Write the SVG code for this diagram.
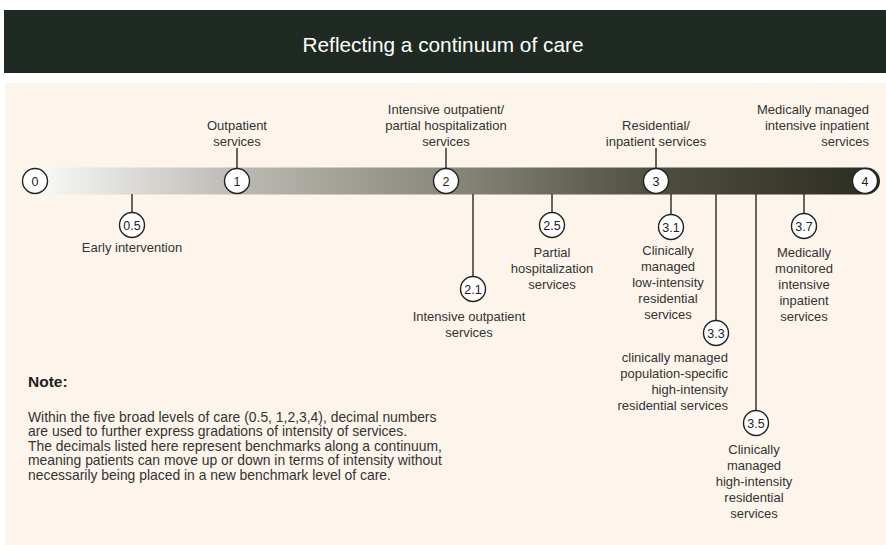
<svg xmlns="http://www.w3.org/2000/svg" width="886" height="545" viewBox="0 0 886 545">
  <style>
    .lbl { font-family: "Liberation Sans", Arial, sans-serif; font-size: 13px; fill: #333333; }
    .mid { text-anchor: middle; }
    .end { text-anchor: end; }
    .num { font-family: "Liberation Sans", Arial, sans-serif; font-size: 12.5px; fill: #222222; text-anchor: middle; }
    .dot { fill: #ffffff; stroke: #222222; stroke-width: 1.4; }
    .tick { stroke: #333333; stroke-width: 1.5; fill: none; }
    .note { font-family: "Liberation Sans", Arial, sans-serif; font-size: 13.9px; fill: #333333; }
  </style>
  <defs>
    <linearGradient id="barGrad" gradientUnits="userSpaceOnUse" x1="47" y1="0" x2="880" y2="0">
      <stop offset="0" stop-color="#f6f6f4"/>
      <stop offset="0.23" stop-color="#bbb9b2"/>
      <stop offset="0.48" stop-color="#8b897c"/>
      <stop offset="0.66" stop-color="#5f5e4f"/>
      <stop offset="0.73" stop-color="#4f4f40"/>
      <stop offset="0.88" stop-color="#3b3c2e"/>
      <stop offset="1" stop-color="#2b2c20"/>
    </linearGradient>
  </defs>

  <!-- header band and panel -->
  <rect x="4" y="10" width="882" height="63" fill="#1f2b22"/>
  <text x="443" y="52" font-family="'Liberation Sans', Arial, sans-serif" font-size="20.8" fill="#ffffff" text-anchor="middle">Reflecting a continuum of care</text>
  <rect x="5" y="83" width="881" height="462" fill="#fdf5eb"/>

  <!-- continuum bar -->
  <path d="M35,167.5 H866.5 A13.5,13.5 0 0 1 866.5,194.5 H35 Z" fill="url(#barGrad)"/>

  <!-- connectors -->
  <g id="connectors">
    <line class="tick" x1="237" y1="148" x2="237" y2="168"/>
    <line class="tick" x1="446" y1="148" x2="446" y2="168"/>
    <line class="tick" x1="656" y1="148" x2="656" y2="168"/>
    <line class="tick" x1="132" y1="194" x2="132" y2="213"/>
    <line class="tick" x1="473" y1="194" x2="473" y2="277"/>
    <line class="tick" x1="552" y1="194" x2="552" y2="213"/>
    <line class="tick" x1="671" y1="194" x2="671" y2="215"/>
    <line class="tick" x1="716" y1="194" x2="716" y2="321"/>
    <line class="tick" x1="756" y1="194" x2="756" y2="411"/>
    <line class="tick" x1="804" y1="194" x2="804" y2="214"/>
  </g>

  <!-- main levels -->
  <g id="level-0">
    <circle class="dot" cx="35" cy="181" r="12.5"/>
    <text class="num" x="35" y="185.5">0</text>
  </g>
  <g id="level-1">
    <circle class="dot" cx="237" cy="181" r="12.5"/>
    <text class="num" x="237" y="185.5">1</text>
    <text class="lbl mid" x="237" y="130">Outpatient</text>
    <text class="lbl mid" x="237" y="146">services</text>
  </g>
  <g id="level-2">
    <circle class="dot" cx="446" cy="181" r="12.5"/>
    <text class="num" x="446" y="185.5">2</text>
    <text class="lbl mid" x="446" y="114">Intensive outpatient/</text>
    <text class="lbl mid" x="446" y="130">partial hospitalization</text>
    <text class="lbl mid" x="446" y="146">services</text>
  </g>
  <g id="level-3">
    <circle class="dot" cx="656" cy="181" r="12.5"/>
    <text class="num" x="656" y="185.5">3</text>
    <text class="lbl mid" x="656" y="130">Residential/</text>
    <text class="lbl mid" x="656" y="146">inpatient services</text>
  </g>
  <g id="level-4">
    <circle class="dot" cx="865" cy="181" r="12.5"/>
    <text class="num" x="865" y="185.5">4</text>
    <text class="lbl end" x="869" y="114">Medically managed</text>
    <text class="lbl end" x="869" y="130">intensive inpatient</text>
    <text class="lbl end" x="869" y="146">services</text>
  </g>

  <!-- sub-levels -->
  <g id="level-0-5">
    <circle class="dot" cx="132" cy="225" r="12.5"/>
    <text class="num" x="132" y="229.5">0.5</text>
    <text class="lbl mid" x="132" y="251.5">Early intervention</text>
  </g>
  <g id="level-2-1">
    <circle class="dot" cx="473" cy="289" r="12.5"/>
    <text class="num" x="473" y="293.5">2.1</text>
    <text class="lbl mid" x="469" y="320.5">Intensive outpatient</text>
    <text class="lbl mid" x="469" y="336.5">services</text>
  </g>
  <g id="level-2-5">
    <circle class="dot" cx="552" cy="225" r="12.5"/>
    <text class="num" x="552" y="229.5">2.5</text>
    <text class="lbl mid" x="552" y="256.5">Partial</text>
    <text class="lbl mid" x="552" y="272.5">hospitalization</text>
    <text class="lbl mid" x="552" y="288.5">services</text>
  </g>
  <g id="level-3-1">
    <circle class="dot" cx="671" cy="227" r="12.5"/>
    <text class="num" x="671" y="231.5">3.1</text>
    <text class="lbl mid" x="668" y="254.5">Clinically</text>
    <text class="lbl mid" x="668" y="270.5">managed</text>
    <text class="lbl mid" x="668" y="286.5">low-intensity</text>
    <text class="lbl mid" x="668" y="302.5">residential</text>
    <text class="lbl mid" x="668" y="318.5">services</text>
  </g>
  <g id="level-3-3">
    <circle class="dot" cx="716" cy="333" r="12.5"/>
    <text class="num" x="716" y="337.5">3.3</text>
    <text class="lbl end" x="728" y="361.5">clinically managed</text>
    <text class="lbl end" x="728" y="377.5">population-specific</text>
    <text class="lbl end" x="728" y="393.5">high-intensity</text>
    <text class="lbl end" x="728" y="409.5">residential services</text>
  </g>
  <g id="level-3-5">
    <circle class="dot" cx="756" cy="423" r="12.5"/>
    <text class="num" x="756" y="427.5">3.5</text>
    <text class="lbl mid" x="754" y="453.5">Clinically</text>
    <text class="lbl mid" x="754" y="469.5">managed</text>
    <text class="lbl mid" x="754" y="485.5">high-intensity</text>
    <text class="lbl mid" x="754" y="501.5">residential</text>
    <text class="lbl mid" x="754" y="517.5">services</text>
  </g>
  <g id="level-3-7">
    <circle class="dot" cx="804" cy="226" r="12.5"/>
    <text class="num" x="804" y="230.5">3.7</text>
    <text class="lbl mid" x="804" y="256.5">Medically</text>
    <text class="lbl mid" x="804" y="272.5">monitored</text>
    <text class="lbl mid" x="804" y="288.5">intensive</text>
    <text class="lbl mid" x="804" y="304.5">inpatient</text>
    <text class="lbl mid" x="804" y="320.5">services</text>
  </g>

  <!-- note -->
  <g id="note">
    <text x="28" y="387" font-family="'Liberation Sans', Arial, sans-serif" font-size="15.5" font-weight="bold" fill="#222222">Note:</text>
    <text class="note" x="28" y="421.5">Within the five broad levels of care (0.5, 1,2,3,4), decimal numbers</text>
    <text class="note" x="28" y="436">are used to further express gradations of intensity of services.</text>
    <text class="note" x="28" y="450.5">The decimals listed here represent benchmarks along a continuum,</text>
    <text class="note" x="28" y="465">meaning patients can move up or down in terms of intensity without</text>
    <text class="note" x="28" y="479.5">necessarily being placed in a new benchmark level of care.</text>
  </g>
</svg>
